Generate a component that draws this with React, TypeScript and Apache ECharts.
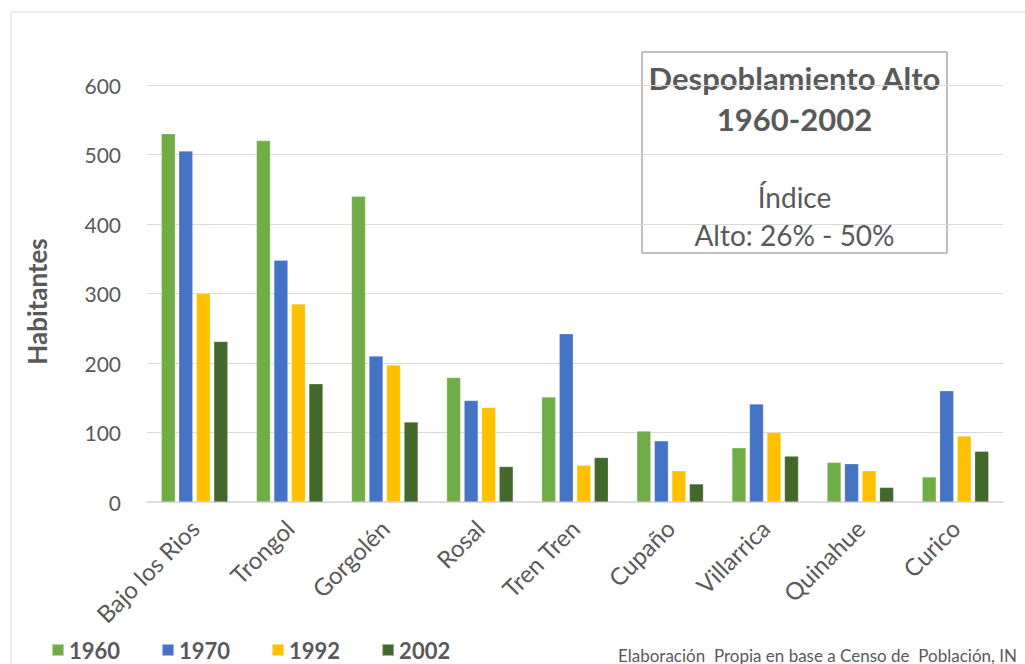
import React, { useEffect, useRef } from "react";
import * as echarts from "echarts";

const categories = ["Bajo los Rios", "Trongol", "Gorgolén", "Rosal", "Tren Tren", "Cupaño", "Villarrica", "Quinahue", "Curico"];
const s1960 = [530, 520, 440, 179, 151, 102, 78, 57, 36];
const s1970 = [505, 348, 210, 146, 242, 88, 141, 55, 160];
const s1992 = [300, 285, 197, 136, 53, 45, 100, 45, 95];
const s2002 = [231, 170, 115, 51, 64, 26, 66, 21, 73];
const seriesNames = ["1960", "1970", "1992", "2002"];
const seriesColors = ["#70AD47", "#4472C4", "#FFC000", "#43682B"];
const yTicks = { min: 0, max: 600, interval: 100 };

const FONT = "Lato";
const GREY = "#595959";

export default function App() {
  const ref = useRef<HTMLDivElement>(null);
  useEffect(() => {
    if (!ref.current) return;
    const chart = echarts.init(ref.current, null, { renderer: "svg" });
    const data = [s1960, s1970, s1992, s2002];
    chart.setOption({
      animation: false,
      textStyle: { fontFamily: FONT },
      grid: { left: 147, right: 22, top: 85, bottom: 162, containLabel: false },
      legend: {
        data: seriesNames,
        left: 51,
        top: 639,
        padding: 0,
        icon: "rect",
        itemWidth: 12,
        itemHeight: 12,
        itemGap: 41,
        textStyle: { fontFamily: FONT, fontSize: 22, lineHeight: 22, fontWeight: "bold", color: GREY },
      },
      xAxis: {
        type: "category",
        data: categories,
        axisLine: { lineStyle: { color: "#D9D9D9", width: 1.5 } },
        axisTick: { show: false },
        axisLabel: {
          rotate: 45,
          interval: 0,
          margin: 22,
          fontSize: 24,
          color: GREY,
          fontFamily: FONT,
        },
      },
      yAxis: {
        type: "value",
        min: yTicks.min,
        max: yTicks.max,
        interval: yTicks.interval,
        name: "Habitantes",
        nameLocation: "middle",
        nameGap: 97,
        nameRotate: 90,
        nameTextStyle: { fontSize: 26, fontWeight: "bold", color: GREY, fontFamily: FONT, padding: [0, 16, 0, 0] },
        axisLine: { show: false },
        axisTick: { show: false },
        axisLabel: { fontSize: 21, color: GREY, margin: 26, fontFamily: FONT },
        splitLine: { lineStyle: { color: "#D9D9D9", width: 1 } },
      },
      series: seriesNames.map((n, i) => ({
        name: n,
        type: "bar",
        data: data[i],
        barGap: "25%",
        barCategoryGap: "30%",
        itemStyle: { color: seriesColors[i], borderColor: "rgba(255,255,255,0.5)", borderWidth: 0.5 },
      })),
      graphic: [
        {
          type: "rect",
          z: -10,
          silent: true,
          shape: { x: 11, y: 12, width: 1100, height: 700 },
          style: { fill: "none", stroke: "#D9D9D9", lineWidth: 1 },
        },
        {
          type: "group",
          z: 100,
          children: [
            {
              type: "rect",
              shape: { x: 642, y: 52, width: 305, height: 201 },
              style: { fill: "#FFFFFF", stroke: "#808080", lineWidth: 1 },
            },
            {
              type: "text",
              x: 794.5,
              y: 78,
              style: { text: "Despoblamiento Alto", fontFamily: FONT, fontSize: 31, fontWeight: "bold", fill: GREY, align: "center", verticalAlign: "middle" },
            },
            {
              type: "text",
              x: 794.5,
              y: 119,
              style: { text: "1960-2002", fontFamily: FONT, fontSize: 31, fontWeight: "bold", fill: GREY, align: "center", verticalAlign: "middle" },
            },
            {
              type: "text",
              x: 794.5,
              y: 197,
              style: { text: "Índice", fontFamily: FONT, fontSize: 28, fill: GREY, align: "center", verticalAlign: "middle" },
            },
            {
              type: "text",
              x: 794.5,
              y: 235,
              style: { text: "Alto: 26% - 50%", fontFamily: FONT, fontSize: 28, fill: GREY, align: "center", verticalAlign: "middle" },
            },
          ],
        },
        {
          type: "text",
          x: 618,
          y: 655,
          style: { text: "Elaboración  Propia en base a Censo de  Población, IN", fontFamily: FONT, fontSize: 17, fill: GREY, align: "left", verticalAlign: "middle" },
        },
      ],
    });
    return () => chart.dispose();
  }, []);
  return <div ref={ref} style={{ position: "fixed", left: 0, top: 0, width: 1025, height: 664, background: "#fff" }} />;
}
